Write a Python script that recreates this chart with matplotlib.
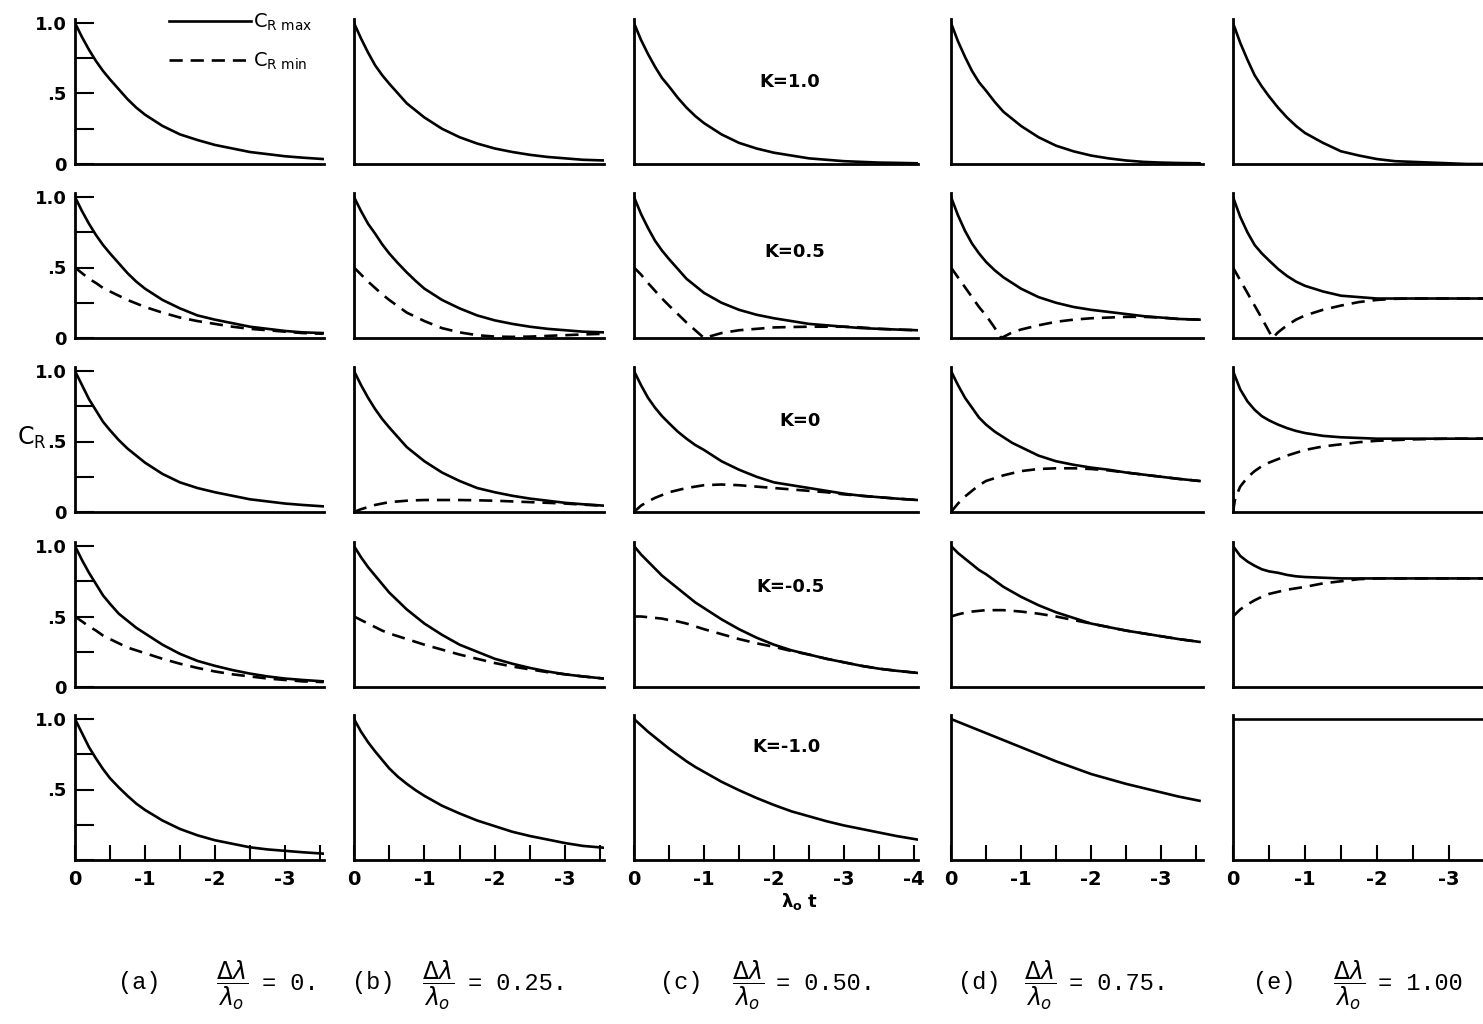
import matplotlib
matplotlib.use('Agg')
import matplotlib.pyplot as plt
from matplotlib.lines import Line2D

plt.rcParams['font.family'] = ['DejaVu Sans']
plt.rcParams['axes.unicode_minus'] = False

# lambda_0 t grids (negative time)
x_std = [0, -0.1, -0.2, -0.3, -0.4, -0.5, -0.625, -0.75, -0.875, -1.0, -1.25, -1.5,
         -1.75, -2.0, -2.25, -2.5, -2.75, -3.0, -3.25, -3.55]
x_long = [0, -0.1, -0.2, -0.3, -0.4, -0.5, -0.625, -0.75, -0.875, -1.0, -1.25, -1.5,
          -1.75, -2.0, -2.25, -2.5, -2.75, -3.0, -3.25, -3.5, -3.75, -4.05]

columns = ['a', 'b', 'c', 'd', 'e']
ratios = ['0.', '0.25.', '0.50.', '0.75.', '1.00']
k_labels = ['K=1.0', 'K=0.5', 'K=0', 'K=-0.5', 'K=-1.0']

# C_R max, one dict per K row
cmax_k10 = {
    'a': [1, .90, .81, .73, .66, .60, .53, .46, .40, .35, .27, .21, .17, .135, .11, .085, .07, .055, .045, .035],
    'b': [1, .89, .79, .70, .63, .57, .50, .43, .38, .33, .25, .19, .145, .11, .085, .065, .05, .04, .03, .025],
    'c': [1, .88, .78, .69, .61, .55, .47, .40, .34, .29, .21, .15, .11, .08, .06, .04, .03, .02, .015, .01, .008, .005],
    'd': [1, .87, .76, .66, .58, .52, .44, .37, .32, .27, .19, .13, .09, .06, .04, .025, .015, .01, .007, .005],
    'e': [1, .86, .74, .63, .55, .48, .40, .33, .27, .22, .15, .09, .06, .035, .02, .015, .01, .005, 0, 0],
}
cmax_k05 = {
    'a': [1, .90, .81, .73, .66, .60, .53, .46, .40, .35, .27, .21, .16, .13, .105, .08, .065, .05, .04, .035],
    'b': [1, .90, .81, .74, .665, .60, .53, .465, .405, .35, .27, .21, .16, .125, .10, .08, .065, .055, .045, .04],
    'c': [1, .88, .78, .69, .62, .56, .49, .42, .37, .32, .25, .20, .165, .14, .12, .10, .09, .08, .07, .065, .06, .055],
    'd': [1, .87, .76, .67, .60, .54, .48, .43, .39, .35, .29, .25, .22, .20, .185, .17, .155, .145, .135, .13],
    'e': [1, .86, .75, .66, .60, .55, .49, .44, .40, .37, .33, .30, .29, .28, .28, .28, .28, .28, .28, .28],
}
cmax_k0 = {
    'a': [1, .90, .80, .72, .64, .58, .51, .45, .40, .35, .27, .21, .17, .14, .115, .09, .075, .06, .05, .04],
    'b': [1, .90, .81, .73, .66, .60, .53, .46, .41, .36, .28, .22, .17, .14, .115, .095, .08, .065, .055, .045],
    'c': [1, .90, .81, .74, .68, .63, .57, .52, .475, .44, .36, .30, .25, .21, .19, .17, .15, .13, .115, .105, .095, .085],
    'd': [1, .90, .81, .74, .67, .62, .57, .53, .49, .46, .40, .36, .335, .315, .30, .28, .265, .25, .235, .22],
    'e': [1, .87, .785, .725, .68, .65, .62, .595, .575, .56, .54, .53, .525, .52, .52, .52, .52, .52, .52, .52],
}
cmax_km05 = {
    'a': [1, .90, .81, .73, .65, .59, .52, .47, .42, .38, .30, .235, .185, .15, .12, .095, .075, .06, .05, .04],
    'b': [1, .92, .85, .79, .73, .67, .61, .55, .50, .45, .37, .30, .25, .20, .165, .135, .11, .09, .075, .06],
    'c': [1, .94, .89, .84, .79, .75, .70, .65, .60, .56, .48, .41, .35, .30, .26, .23, .20, .175, .15, .13, .115, .10],
    'd': [1, .95, .91, .87, .83, .80, .755, .71, .675, .64, .58, .53, .49, .45, .425, .40, .38, .36, .34, .32],
    'e': [1, .93, .89, .86, .835, .82, .81, .795, .785, .78, .775, .77, .77, .77, .77, .77, .77, .77, .77, .77],
}
cmax_km10 = {
    'a': [1, .90, .80, .72, .645, .58, .515, .455, .40, .355, .28, .22, .175, .14, .115, .09, .075, .065, .055, .045],
    'b': [1, .91, .835, .77, .71, .65, .59, .54, .495, .455, .385, .33, .28, .24, .20, .17, .145, .12, .10, .087],
    'c': [1, .955, .91, .87, .83, .79, .745, .70, .66, .625, .555, .495, .44, .39, .345, .31, .275, .245, .22, .195, .17, .145],
    'd': [1, .98, .96, .94, .92, .90, .875, .85, .825, .80, .75, .70, .655, .61, .575, .54, .51, .48, .45, .42],
    'e': [1, 1, 1, 1, 1, 1, 1, 1, 1, 1, 1, 1, 1, 1, 1, 1, 1, 1, 1, 1],
}

# C_R min (dashed); curves with a cusp get their own x points
x_min_k05_d = [0, -0.1, -0.2, -0.3, -0.4, -0.5, -0.6, -0.72, -0.875, -1.0, -1.25, -1.5,
               -1.75, -2.0, -2.25, -2.5, -2.75, -3.0, -3.25, -3.55]
x_min_k05_e = [0, -0.1, -0.2, -0.3, -0.4, -0.55, -0.625, -0.75, -0.875, -1.0, -1.25, -1.5,
               -1.75, -2.0, -2.25, -2.5, -2.75, -3.0, -3.25, -3.55]
x_min_k0_e = [0, -0.025, -0.05, -0.1, -0.2, -0.3, -0.4, -0.5, -0.625, -0.75, -0.875, -1.0,
              -1.25, -1.5, -1.75, -2.0, -2.5, -3.0, -3.55]

cmin_k05 = {
    'a': [.5, .46, .42, .39, .355, .33, .30, .27, .245, .22, .18, .145, .12, .10, .08, .065, .055, .045, .035, .03],
    'b': [.5, .45, .40, .355, .31, .27, .225, .18, .15, .12, .07, .04, .02, .01, .008, .01, .015, .02, .025, .03],
    'c': [.5, .45, .39, .335, .28, .23, .17, .11, .055, 0, .035, .055, .065, .075, .078, .08, .08, .08, .075, .065, .06, .055],
    'd': [.5, .43, .36, .29, .22, .16, .09, 0, .04, .06, .09, .115, .13, .14, .145, .15, .15, .145, .135, .13],
    'e': [.5, .41, .32, .23, .14, 0, .04, .09, .13, .16, .20, .23, .255, .27, .278, .28, .28, .28, .28, .28],
}
cmin_k0 = {
    'b': [0, .02, .035, .05, .06, .07, .075, .08, .083, .085, .085, .085, .083, .08, .075, .07, .065, .06, .052, .045],
    'c': [0, .045, .075, .10, .12, .14, .155, .17, .18, .19, .195, .19, .18, .17, .16, .15, .14, .125, .115, .105, .095, .085],
    'd': [0, .06, .11, .15, .19, .22, .24, .26, .275, .29, .305, .31, .31, .305, .295, .28, .265, .25, .235, .22],
    'e': [0, .08, .12, .18, .245, .29, .325, .35, .375, .40, .42, .44, .465, .48, .495, .505, .515, .52, .52],
}
cmin_km05 = {
    'a': [.5, .465, .43, .40, .365, .34, .31, .28, .26, .24, .20, .165, .135, .11, .09, .075, .06, .05, .04, .035],
    'b': [.5, .475, .45, .425, .40, .38, .36, .34, .32, .30, .265, .23, .20, .17, .145, .125, .105, .09, .075, .06],
    'c': [.5, .50, .495, .49, .485, .475, .465, .45, .43, .41, .375, .34, .31, .285, .255, .23, .20, .175, .15, .13, .115, .10],
    'd': [.5, .515, .527, .535, .54, .545, .545, .545, .54, .535, .52, .50, .475, .45, .425, .40, .38, .36, .34, .32],
    'e': [.5, .55, .585, .615, .64, .66, .675, .69, .70, .71, .735, .75, .765, .77, .77, .77, .77, .77, .77, .77],
}

cmax_rows = [cmax_k10, cmax_k05, cmax_k0, cmax_km05, cmax_km10]
cmin_rows = [{}, cmin_k05, cmin_k0, cmin_km05, {}]
cmin_x = {(1, 'd'): x_min_k05_d, (1, 'e'): x_min_k05_e, (2, 'e'): x_min_k0_e}

W, H = 1483, 1024
fig = plt.figure(figsize=(W / 100, H / 100), dpi=100)

col_left = [75, 354, 634, 951, 1233]
col_xmax = [3.55, 3.55, 4.06, 3.6, 3.75]
col_ppu = [70, 70.4, 70, 70, 72]
row_zero = [164, 338, 512, 687, 860]
ppu_y = 141
ytop = 1.03
dash = (0, (5, 3))
lw = 1.9

for r in range(5):
    for c, col in enumerate(columns):
        wpx = col_xmax[c] * col_ppu[c]
        hpx = ytop * ppu_y
        ax = fig.add_axes([col_left[c] / W, 1 - row_zero[r] / H, wpx / W, hpx / H])
        xs = x_long if col == 'c' else x_std
        ax.plot(xs, cmax_rows[r][col], color='k', lw=lw)
        if col in cmin_rows[r]:
            xm = cmin_x.get((r, col), xs)
            ax.plot(xm, cmin_rows[r][col], color='k', lw=lw, linestyle=dash)
        ax.set_xlim(0, -col_xmax[c])
        ax.set_ylim(0, ytop)
        for s in ['top', 'right']:
            ax.spines[s].set_visible(False)
        for s in ['left', 'bottom']:
            ax.spines[s].set_linewidth(2.0)
        if c == 0:
            ax.set_yticks([0, .25, .5, .75, 1.0])
            if r < 4:
                ax.set_yticklabels(['0', '', '.5', '', '1.0'])
            else:
                ax.set_yticklabels(['', '', '.5', '', '1.0'])
            ax.tick_params(axis='y', direction='in', length=14, width=1.5, pad=6,
                           labelsize=13)
            for t in ax.get_yticklabels():
                t.set_fontweight('bold')
        else:
            ax.set_yticks([])
        if r == 4:
            nmax = 4 if col == 'c' else 3
            major = [-i for i in range(nmax + 1)]
            minor = [-i - 0.5 for i in range(4)]
            ax.set_xticks(major)
            ax.set_xticklabels(['0'] + ['-%d' % i for i in range(1, nmax + 1)])
            ax.set_xticks(minor, minor=True)
            ax.tick_params(axis='x', which='both', direction='in', length=11, width=1.5,
                           pad=7, labelsize=14)
            for t in ax.get_xticklabels():
                t.set_fontweight('bold')
        else:
            ax.set_xticks([])
        if r == 0 and c == 0:
            handles = [Line2D([], [], color='k', lw=lw),
                       Line2D([], [], color='k', lw=lw, linestyle=dash)]
            ax.legend(handles, [r'$\mathrm{C_{R\ max}}$', r'$\mathrm{C_{R\ min}}$'],
                      loc='upper left', bbox_to_anchor=(0.38, 1.05), frameon=False,
                      handlelength=4.2, handletextpad=0.1, labelspacing=0.9,
                      fontsize=14, borderpad=0, borderaxespad=0)

# K labels
k_pos = [(790, 82), (795, 252), (800, 421), (790, 587), (787, 747)]
for lab, (px, py) in zip(k_labels, k_pos):
    fig.text(px / W, 1 - py / H, lab, ha='center', va='center', fontsize=13,
             fontweight='bold')

fig.text(32 / W, 1 - 438 / H, r'$\mathrm{C_R}$', ha='center', va='center', fontsize=17)
fig.text(800 / W, 1 - 902 / H, r'$\mathbf{\lambda_o}$ t', ha='center', va='center',
         fontsize=13, fontweight='bold')

# captions
cap_x = [(118, 232, 262), (352, 438, 468), (660, 748, 776), (958, 1040, 1069),
         (1253, 1349, 1378)]
for col, ratio, (xl, xf, xv) in zip(columns, ratios, cap_x):
    fig.text(xl / W, 1 - 983 / H, '(%s)' % col, ha='left', va='center',
             fontsize=17, family='Liberation Mono')
    fig.text(xf / W, 1 - 985 / H, r'$\dfrac{\Delta\lambda}{\lambda_o}$', ha='center',
             va='center', fontsize=17)
    fig.text(xv / W, 1 - 983 / H, '= ' + ratio, ha='left', va='center',
             fontsize=17, family='Liberation Mono')

fig.savefig('out.png', dpi=100)
